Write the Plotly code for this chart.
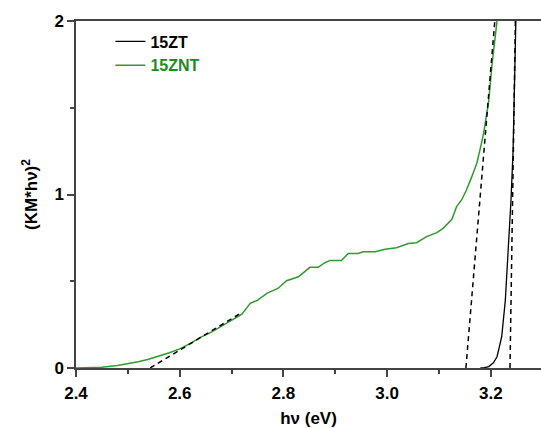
import plotly.graph_objects as go

# 15ZNT (green) curve
znt_x = [2.40, 2.42, 2.45, 2.48, 2.50, 2.52, 2.54, 2.56, 2.58, 2.60, 2.62, 2.64, 2.66, 2.68,
         2.70, 2.72, 2.736, 2.75, 2.768, 2.79, 2.806, 2.829, 2.851, 2.867, 2.88, 2.89, 2.912,
         2.925, 2.944, 2.954, 2.977, 2.996, 3.018, 3.041, 3.057, 3.076, 3.096, 3.108, 3.125,
         3.134, 3.144, 3.153, 3.163, 3.173, 3.179, 3.186, 3.196, 3.202, 3.212, 3.215]
znt_y = [0.0, 0.001, 0.005, 0.015, 0.025, 0.036, 0.05, 0.068, 0.088, 0.11, 0.14, 0.177, 0.205, 0.24,
         0.275, 0.31, 0.373, 0.39, 0.43, 0.46, 0.503, 0.526, 0.58, 0.58, 0.607, 0.62, 0.62,
         0.66, 0.66, 0.67, 0.67, 0.684, 0.693, 0.718, 0.722, 0.757, 0.78, 0.805, 0.857,
         0.93, 0.97, 1.026, 1.10, 1.18, 1.256, 1.35, 1.54, 1.74, 2.0, 2.1]

# 15ZT (black) curve
zt_x = [3.18, 3.186, 3.196, 3.205, 3.212, 3.221, 3.228, 3.234, 3.239, 3.243, 3.247, 3.249]
zt_y = [0.0, 0.0, 0.008, 0.03, 0.065, 0.18, 0.39, 0.68, 0.97, 1.256, 2.0, 2.1]

# Tangent (Tauc) fit lines
fit1_x = [2.543, 2.72]
fit1_y = [0.0, 0.32]
fit2_x = [3.152, 3.2077]
fit2_y = [0.0, 2.0]
fit3_x = [3.237, 3.2474]
fit3_y = [0.0, 2.0]

FONT = "Arial, Liberation Sans, sans-serif"
GREEN = "#2e9b2e"
AXIS = "#444444"

fig = go.Figure()
fig.add_trace(go.Scatter(x=zt_x, y=zt_y, mode="lines", name="<b>15ZT</b>",
                         line=dict(color="black", width=1.3)))
fig.add_trace(go.Scatter(x=znt_x, y=znt_y, mode="lines",
                         name="<b><span style='color:#1f8a1f'>15ZNT</span></b>",
                         line=dict(color=GREEN, width=1.5)))
for fx, fy in [(fit1_x, fit1_y), (fit2_x, fit2_y), (fit3_x, fit3_y)]:
    fig.add_trace(go.Scatter(x=fx, y=fy, mode="lines", showlegend=False,
                             line=dict(color="black", width=1.5, dash="5px,4px")))

fig.update_layout(
    width=541, height=428,
    margin=dict(l=76, r=0, t=21, b=60),
    paper_bgcolor="white", plot_bgcolor="white",
    font=dict(family=FONT, size=16, color="black"),
    showlegend=True,
    legend=dict(x=0.074, y=0.99, xanchor="left", yanchor="top",
                bgcolor="rgba(0,0,0,0)", font=dict(family=FONT, size=16, color="black"),
                tracegroupgap=0),
)
fig.update_xaxes(
    range=[2.4, 2.4 + 465 / 518.5], showgrid=False, zeroline=False, automargin=False,
    showline=True, linecolor=AXIS, linewidth=1.5, mirror=True,
    ticks="outside", ticklen=7, tickwidth=1.5, tickcolor=AXIS,
    tickvals=[2.4, 2.6, 2.8, 3.0, 3.2], ticktext=["<b>2.4</b>", "<b>2.6</b>", "<b>2.8</b>", "<b>3.0</b>", "<b>3.2</b>"],
    minor=dict(tickvals=[2.5, 2.7, 2.9, 3.1], ticks="outside", ticklen=4, tickwidth=1.5, tickcolor=AXIS),
    tickfont=dict(family=FONT, size=17, color="black"), ticklabelstandoff=2,
    title=dict(text="<b>hν (eV)</b>", font=dict(family=FONT, size=17), standoff=12),
)
fig.update_yaxes(
    range=[0, 2], showgrid=False, zeroline=False, automargin=False,
    showline=True, linecolor=AXIS, linewidth=1.5,
    ticks="outside", ticklen=7, tickwidth=1.5, tickcolor=AXIS,
    tickvals=[0, 1, 2], ticktext=["<b>0</b>", "<b>1</b>", "<b>2</b>"],
    minor=dict(tickvals=[0.5, 1.5], ticks="outside", ticklen=4, tickwidth=1.5, tickcolor=AXIS),
    tickfont=dict(family=FONT, size=17, color="black"),
    title=dict(text="<b>(KM*hν)<sup>2</sup></b>", font=dict(family=FONT, size=17), standoff=12),
)

fig.write_html("out.html", config={"displayModeBar": False},
               post_script="document.body.style.margin='0';")
